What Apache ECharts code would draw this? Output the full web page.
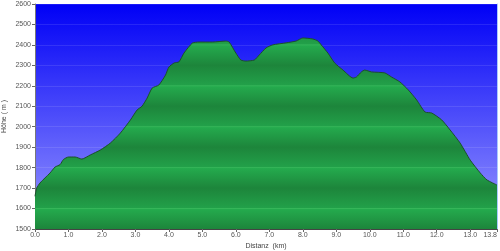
<!DOCTYPE html>
<html>
<head>
<meta charset="utf-8">
<script src="https://cdn.jsdelivr.net/npm/echarts@6/dist/echarts.min.js"></script>
<style>html,body{margin:0;padding:0;background:#fff}#c{width:500px;height:251px}</style>
</head>
<body>
<div id="c"></div>
<script>
const distances = [0, 0.05, 0.15, 0.3, 0.45, 0.6, 0.75, 0.85, 1.0, 1.2, 1.4, 1.65, 1.95, 2.25, 2.55, 2.85, 3.05, 3.2, 3.35, 3.5, 3.7, 3.9, 4.0, 4.16, 4.3, 4.45, 4.7, 4.9, 5.3, 5.7, 5.8, 6.0, 6.15, 6.3, 6.55, 6.7, 6.9, 7.1, 7.5, 7.8, 8.0, 8.3, 8.45, 8.55, 8.75, 8.95, 9.2, 9.5, 9.6, 9.75, 9.85, 10.05, 10.45, 10.65, 10.9, 11.15, 11.4, 11.65, 11.85, 12.15, 12.4, 12.7, 13.0, 13.3, 13.5, 13.8];
const elevations = [1660, 1700, 1725, 1750, 1774, 1803, 1815, 1840, 1852, 1852, 1842, 1862, 1886, 1920, 1969, 2033, 2082, 2101, 2140, 2189, 2204, 2253, 2292, 2312, 2317, 2360, 2409, 2414, 2414, 2419, 2414, 2360, 2326, 2321, 2326, 2351, 2385, 2400, 2410, 2419, 2434, 2429, 2419, 2400, 2360, 2312, 2277, 2238, 2243, 2268, 2277, 2268, 2263, 2243, 2219, 2180, 2131, 2072, 2067, 2033, 1984, 1920, 1837, 1774, 1740, 1715];
const yTicks = [1500, 2600, 100];
const xTicks = [0, 13.8, 1];
const xName = 'Distanz  (km)';
const yName = 'Höhe ( m )';

const W = 500, H = 251;
const gTop = 4, gBottom = 22, gLeft = 35, gRight = 3;
const pTop = gTop, pBot = H - gBottom;

// banded green fill (global pixel gradient over plot area)
const stops = [];
const span = yTicks[1] - yTicks[0];
for (let h = yTicks[1]; h >= yTicks[0]; h -= 100) {
  const off = (yTicks[1] - h) / span;
  const odd = ((h / 100) % 2) === 1;
  if (odd) {
    stops.push({offset: off, color: '#1d853b'});
  } else {
    const d = 0.004;
    if (off - d > 0) stops.push({offset: off - d, color: '#22a049'});
    stops.push({offset: off, color: '#36b75a'});
    if (off + d < 1) stops.push({offset: off + d, color: '#24aa4d'});
  }
}
const greenFill = {type: 'linear', x: 0, y: pTop, x2: 0, y2: pBot, global: true, colorStops: stops};
const blueBg = {type: 'linear', x: 0, y: 0, x2: 0, y2: 1, colorStops: [
  {offset: 0, color: '#0000f6'}, {offset: 1, color: '#9a9aff'}]};

const font = {fontFamily: 'Liberation Sans', fontSize: 7, color: '#555'};
const chart = echarts.init(document.getElementById('c'), null, {renderer: 'canvas'});
chart.setOption({
  animation: false,
  backgroundColor: '#fff',
  grid: {left: gLeft, right: gRight, top: gTop, bottom: gBottom, show: true, backgroundColor: blueBg, borderWidth: 0,
         containLabel: false, outerBoundsMode: 'none'},
  xAxis: {
    type: 'value', min: xTicks[0], max: xTicks[1], interval: xTicks[2],
    name: xName, nameLocation: 'middle', nameGap: 14, nameMoveOverlap: false,
    nameTextStyle: Object.assign({}, font, {color: '#444'}),
    axisLine: {show: true, lineStyle: {color: '#444', width: 1}},
    axisTick: {show: true, length: 3, lineStyle: {color: '#666'}},
    axisLabel: Object.assign({}, font, {margin: 3, formatter: v => v.toFixed(1), alignMaxLabel: 'right', showMaxLabel: true}),
    splitLine: {show: false}
  },
  yAxis: [{
    type: 'value', min: yTicks[0], max: yTicks[1], interval: yTicks[2],
    name: yName, nameLocation: 'middle', nameGap: 27, nameRotate: 90, nameMoveOverlap: false,
    nameTextStyle: Object.assign({}, font, {color: '#444'}),
    axisLine: {show: true, lineStyle: {color: '#777', width: 1}},
    axisTick: {show: true, length: 3, lineStyle: {color: '#666'}},
    axisLabel: Object.assign({}, font, {margin: 4, formatter: v => String(v)}),
    splitLine: {show: true, lineStyle: {color: 'rgba(255,255,255,0.1)', width: 1}}
  }, {
    type: 'value', min: yTicks[0], max: yTicks[1], interval: yTicks[2], position: 'right',
    axisLine: {show: true, lineStyle: {color: '#a8c8ff', width: 1}},
    axisTick: {show: false}, axisLabel: {show: false}, splitLine: {show: false}
  }],
  series: [{
    type: 'line',
    data: distances.map((d, i) => [d, elevations[i]]),
    showSymbol: false,
    smooth: 0.2,
    lineStyle: {color: '#1c4f2c', width: 1},
    areaStyle: {color: greenFill, opacity: 1, origin: 'start'}
  }]
});
</script>
</body>
</html>
